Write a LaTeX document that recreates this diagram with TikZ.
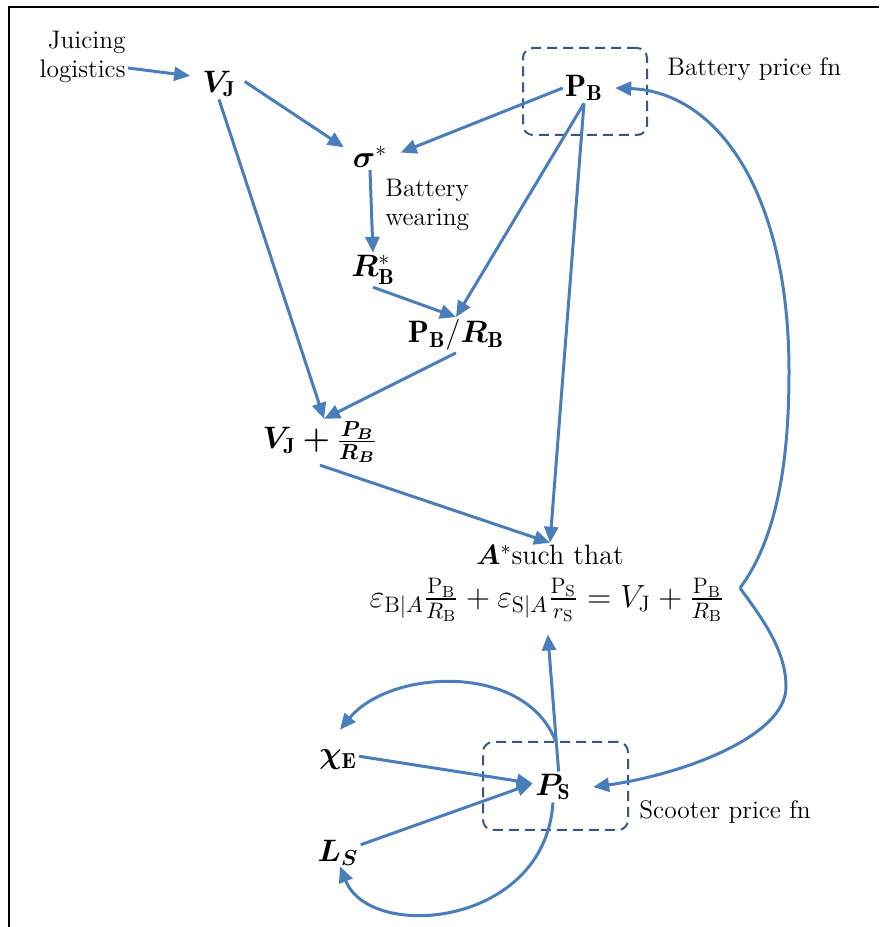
\RequirePackage{fix-cm}
\documentclass[tikz,border=0pt]{standalone}
\usepackage{amsmath,bm}
\usepackage{fontspec}
\usetikzlibrary{arrows.meta}
\definecolor{linkblue}{RGB}{74,126,187}
\definecolor{boxblue}{RGB}{56,87,128}

\begin{document}
\begin{tikzpicture}[x=0.5pt, y=0.5pt,
        var/.style   = {inner sep=1pt, font=\fontsize{15.5}{18}\selectfont},
        txt/.style   = {inner sep=1pt, align=left, font=\fontsize{12.7}{14.5}\selectfont},
        arr/.style   = {-{Triangle[length=8pt,width=7pt]}, line width=1.5pt, draw=linkblue},
        fnbox/.style = {draw=boxblue, line width=1pt, dash pattern=on 5pt off 3pt, rounded corners=5pt}
    ]
        \useasboundingbox (0,0) rectangle (879,927);
        \draw[line width=1pt] (9,0) -- (9,920) -- (879,920);

        % battery side
        \node[txt, align=right, anchor=east] (juice) at (128,870) {Juicing\\logistics};
        \node[var]               (vj)    at (219,843) {$\bm{V}_{\mathbf{J}}$};
        \node[var]               (sig)   at (370,770) {$\bm{\sigma}^{*}$};
        \node[var]               (pb)    at (584,839) {$\mathbf{P}_{\mathbf{B}}$};
        \node[fnbox, minimum width=62pt, minimum height=43.5pt] (pbbox) at (585,835.5) {};
        \node[txt, anchor=west]  (pbfn)  at (665,858) {Battery price fn};
        \node[txt, anchor=west]  (wear)  at (383,722) {Battery\\wearing};
        \node[var]               (rb)    at (373,657) {$\bm{R}^{*}_{\mathbf{B}}$};
        \node[var]               (pbrb)  at (456,592) {$\mathbf{P}_{\mathbf{B}}/\bm{R}_{\mathbf{B}}$};
        \node[var]               (vjf)   at (320,485) {$\bm{V}_{\mathbf{J}}\bm{+}\frac{\bm{P_B}}{\bm{R_B}}$};

        % equilibrium
        \node[var, font=\fontsize{14}{17}\selectfont] (ast) at (550,372) {$\bm{A}^{*}$such that};
        \node[inner sep=1pt, font=\fontsize{16}{19}\selectfont] (eq) at (547,327)
            {$\varepsilon_{\mathrm{B}|A}\frac{\mathrm{P_B}}{R_{\mathrm{B}}}+\varepsilon_{\mathrm{S}|A}\frac{\mathrm{P_S}}{r_{\mathrm{S}}}=V_{\mathrm{J}}+\frac{\mathrm{P_B}}{R_{\mathrm{B}}}$};
        \coordinate (cusp) at (740,339);

        % scooter side
        \node[var]               (chi)   at (338,167) {$\bm{\chi}_{\mathbf{E}}$};
        \node[var]               (ps)    at (553,140) {$\bm{P}_{\mathbf{S}}$};
        \node[fnbox, minimum width=72.5pt, minimum height=44pt] (psbox) at (555.5,141) {};
        \node[txt, anchor=west]  (psfn)  at (637,115) {Scooter price fn};
        \node[var]               (ls)    at (338,74)  {$\bm{L_S}$};

        \draw[arr, shorten >=5pt] ([yshift=-5.5pt]juice.east) -- (vj.160);
        \draw[arr, shorten <=4pt, shorten >=4pt] (vj.20) -- (sig.165);
        \draw[arr, shorten >=6pt] (pb.west) -- (sig.east);
        \draw[arr] (sig.south) -- (rb.north);
        \draw[arr] (rb.south)  -- (pbrb.north);
        \draw[arr] (pb.south)  -- (pbrb.north);
        \draw[arr] (pbrb.south) -- (vjf.80);
        \draw[arr] (vj.south)  -- (vjf.80);
        \draw[arr] (vjf.south) -- (ast.north);
        \draw[arr] (pb.south)  -- (ast.north);
        \draw[arr, shorten >=5pt] (ps.70) -- (eq.south);
        \draw[arr] (chi.10)    -- (ps.170);
        \draw[arr] (ls.20)     -- (ps.170);
        \draw[arr] (psbox.north) .. controls (525,265) and (390,258) .. ([shift={(2,18)}]chi.north);
        \draw[arr] (ps.south) .. controls (545,0) and (370,-15) .. ([shift={(2,2)}]ls.south);
        \draw[arr] (cusp) .. controls (781,394) and (789,480) .. (789,556)
                          .. controls (789,730) and (720,835) .. ([xshift=5pt]pb.east);
        \draw[arr] (cusp) .. controls (765,305) and (786,275) .. (786,240)
                          .. controls (786,190) and (680,152) .. ([xshift=10pt]ps.east);
    \end{tikzpicture}
\end{document}
